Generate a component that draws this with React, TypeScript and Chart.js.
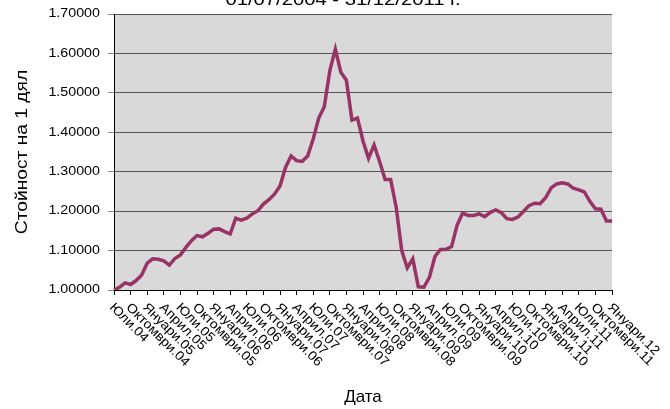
import React, { useEffect, useRef } from 'react';
import { Chart, registerables } from 'chart.js';

Chart.register(...registerables);

const TITLE = '01/07/2004 - 31/12/2011 г.';
const Y_TITLE = 'Стойност на 1 дял';
const X_TITLE = 'Дата';

const MONTHS = ['Януари', 'Февруари', 'Март', 'Април', 'Май', 'Юни', 'Юли', 'Август', 'Септември', 'Октомври', 'Ноември', 'Декември'];
const START_MONTH = 6; // Юли
const START_YEAR = 2004;

const VALUES = [
  1.000, 1.007, 1.018, 1.014, 1.024, 1.038, 1.068, 1.079, 1.078, 1.074,
  1.063, 1.080, 1.089, 1.108, 1.125, 1.138, 1.135, 1.144, 1.154, 1.155,
  1.148, 1.142, 1.182, 1.177, 1.182, 1.193, 1.201, 1.218, 1.229, 1.243,
  1.264, 1.311, 1.340, 1.328, 1.326, 1.340, 1.383, 1.436, 1.465, 1.556,
  1.611, 1.552, 1.532, 1.431, 1.436, 1.378, 1.334, 1.368, 1.326, 1.280,
  1.280, 1.210, 1.100, 1.056, 1.079, 1.008, 1.007, 1.032, 1.085, 1.103,
  1.103, 1.110, 1.164, 1.195, 1.189, 1.189, 1.193, 1.186, 1.197, 1.203,
  1.196, 1.181, 1.179, 1.185, 1.199, 1.214, 1.220, 1.219, 1.234, 1.259,
  1.269, 1.272, 1.269, 1.258, 1.254, 1.249, 1.225, 1.206, 1.205, 1.175,
  1.175,
];

const TICK_LABELS = [
  'Юли.04', 'Октомври.04', 'Януари.05', 'Април.05', 'Юли.05', 'Октомври.05',
  'Януари.06', 'Април.06', 'Юли.06', 'Октомври.06', 'Януари.07', 'Април.07',
  'Юли.07', 'Октомври.07', 'Януари.08', 'Април.08', 'Юли.08', 'Октомври.08',
  'Януари.09', 'Април.09', 'Юли.09', 'Октомври.09', 'Януари.10', 'Април.10',
  'Юли.10', 'Октомври.10', 'Януари.11', 'Април.11', 'Юли.11', 'Октомври.11',
  'Януари.12',
];

const CATEGORIES = VALUES.map((_, i) => {
  const m = (START_MONTH + i) % 12;
  const y = START_YEAR + Math.floor((START_MONTH + i) / 12);
  return MONTHS[m] + '.' + String(y).slice(2);
});

const Y_MIN = 1.0;
const Y_MAX = 1.7;
const Y_STEP = 0.1;

const FONT = '"Liberation Sans", Arial, Helvetica, sans-serif';
const LINE_COLOR = '#993366';
const PLOT_BG = '#d9d9d9';

const customPlugin = {
  id: 'customDraw',
  beforeDraw(chart: any) {
    const { ctx, chartArea: a } = chart;
    ctx.save();
    ctx.fillStyle = '#ffffff';
    ctx.fillRect(0, 0, chart.width, chart.height);
    ctx.fillStyle = PLOT_BG;
    ctx.fillRect(a.left, a.top, a.right - a.left, a.bottom - a.top);
    ctx.restore();
  },
  afterDraw(chart: any) {
    const { ctx, chartArea: a } = chart;
    const xs = chart.scales.x;
    const ys = chart.scales.y;
    ctx.save();
    ctx.fillStyle = '#000000';

    // x tick labels, rotated clockwise
    ctx.font = '13px ' + FONT;
    TICK_LABELS.forEach((lab) => {
      const idx = CATEGORIES.indexOf(lab);
      if (idx < 0) return;
      const px = xs.getPixelForValue(idx);
      ctx.save();
      ctx.translate(px - 5, a.bottom + 18);
      ctx.rotate(Math.PI / 4);
      ctx.scale(1.08, 1);
      ctx.textAlign = 'left';
      ctx.textBaseline = 'alphabetic';
      ctx.fillText(lab, 0, 0);
      ctx.restore();
    });

    // y tick labels
    ctx.font = '12px ' + FONT;
    ys.ticks.forEach((t: any) => {
      const py = ys.getPixelForValue(t.value);
      ctx.save();
      ctx.translate(a.left - 14, py);
      ctx.scale(1.19, 1);
      ctx.textAlign = 'right';
      ctx.textBaseline = 'middle';
      ctx.fillText(Number(t.value).toFixed(5), 0, 0);
      ctx.restore();
    });

    // y title
    ctx.font = '16px ' + FONT;
    ctx.save();
    ctx.translate(27, (a.top + a.bottom) / 2);
    ctx.rotate(-Math.PI / 2);
    ctx.scale(1.2, 1);
    ctx.textAlign = 'center';
    ctx.textBaseline = 'alphabetic';
    ctx.fillText(Y_TITLE, 0, 0);
    ctx.restore();

    // x title
    ctx.font = '17px ' + FONT;
    ctx.textAlign = 'center';
    ctx.textBaseline = 'alphabetic';
    ctx.fillText(X_TITLE, (a.left + a.right) / 2, 402);

    // chart title (cut at top)
    ctx.font = '17px ' + FONT;
    ctx.save();
    ctx.translate(343, 5);
    ctx.scale(1.19, 1);
    ctx.textAlign = 'center';
    ctx.fillText(TITLE, 0, 0);
    ctx.restore();

    ctx.restore();
  },
};

export default function App() {
  const ref = useRef<HTMLCanvasElement | null>(null);
  useEffect(() => {
    if (!ref.current) return;
    const chart = new Chart(ref.current, {
      type: 'line',
      data: {
        labels: CATEGORIES,
        datasets: [
          {
            data: VALUES,
            borderColor: LINE_COLOR,
            backgroundColor: LINE_COLOR,
            borderWidth: 3.5,
            pointRadius: 0,
            tension: 0,
            fill: false,
          },
        ],
      },
      options: {
        animation: false,
        responsive: false,
        layout: { padding: { left: 0, right: 58, top: 14, bottom: 0 } },
        plugins: {
          legend: { display: false },
          title: { display: false },
          tooltip: { enabled: false },
        },
        scales: {
          x: {
            type: 'category',
            offset: false,
            ticks: { display: false, autoSkip: false },
            grid: {
              drawOnChartArea: false,
              drawTicks: true,
              tickLength: 5,
              tickColor: (c: any) =>
                TICK_LABELS.includes(CATEGORIES[c.index]) ? '#000000' : 'rgba(0,0,0,0)',
            },
            border: { display: true, color: '#000000', width: 1 },
            afterFit: (s: any) => {
              s.height = 119;
            },
          },
          y: {
            min: Y_MIN,
            max: Y_MAX,
            ticks: { display: false, stepSize: Y_STEP },
            grid: {
              color: '#555555',
              lineWidth: 1,
              drawTicks: true,
              tickLength: 6,
              tickColor: '#888888',
            },
            border: { display: true, color: '#000000', width: 1 },
            afterFit: (s: any) => {
              s.width = 114;
            },
          },
        },
      },
      plugins: [customPlugin],
    } as any);
    return () => chart.destroy();
  }, []);
  return (
    <div style={{ position: 'fixed', left: 0, top: 0, width: 670, height: 409, background: '#fff' }}>
      <canvas ref={ref} width={670} height={409} style={{ display: 'block' }} />
    </div>
  );
}
